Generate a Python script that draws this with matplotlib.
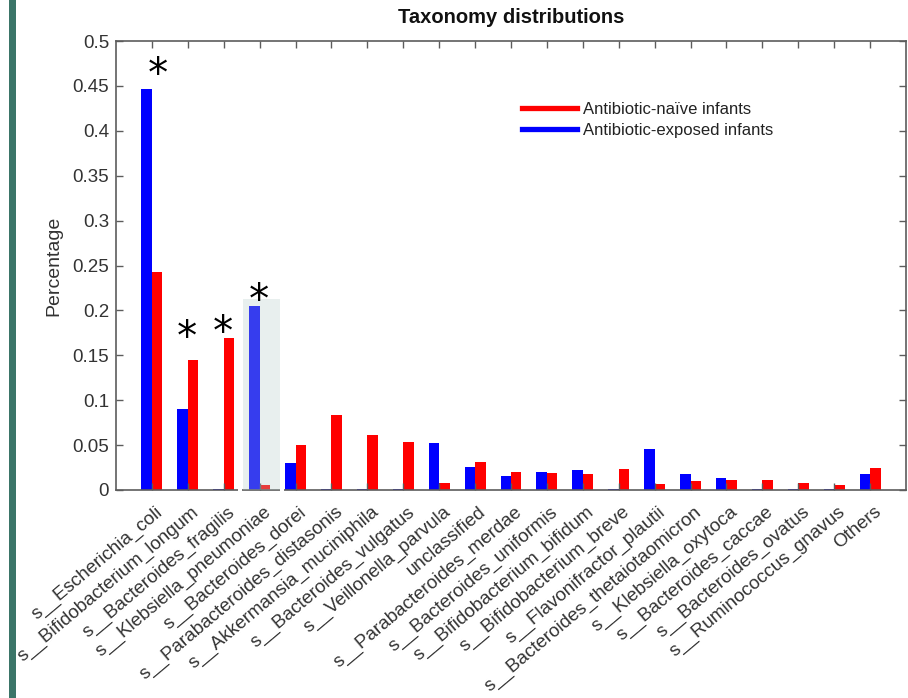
import matplotlib
matplotlib.use("Agg")
import matplotlib.pyplot as plt
import numpy as np
from matplotlib.patches import Rectangle
from matplotlib.lines import Line2D
from matplotlib.transforms import ScaledTranslation, blended_transform_factory

# ---- data -------------------------------------------------------------
taxa = [
    "s__Escherichia_coli", "s__Bifidobacterium_longum", "s__Bacteroides_fragilis",
    "s__Klebsiella_pneumoniae", "s__Bacteroides_dorei", "s__Parabacteroides_distasonis",
    "s__Akkermansia_muciniphila", "s__Bacteroides_vulgatus", "s__Veillonella_parvula",
    "unclassified", "s__Parabacteroides_merdae", "s__Bacteroides_uniformis",
    "s__Bifidobacterium_bifidum", "s__Bifidobacterium_breve", "s__Flavonifractor_plautii",
    "s__Bacteroides_thetaiotaomicron", "s__Klebsiella_oxytoca", "s__Bacteroides_caccae",
    "s__Bacteroides_ovatus", "s__Ruminococcus_gnavus", "Others",
]
exposed = [0.447, 0.090, 0.001, 0.205, 0.030, 0.001, 0.001, 0.001, 0.052, 0.026,
           0.016, 0.020, 0.022, 0.001, 0.046, 0.0175, 0.0134, 0.001, 0.001, 0.001, 0.018]
naive = [0.243, 0.145, 0.169, 0.006, 0.050, 0.083, 0.061, 0.053, 0.008, 0.031,
         0.020, 0.019, 0.018, 0.023, 0.007, 0.0105, 0.011, 0.011, 0.008, 0.0056, 0.024]
significant = [0, 1, 2, 3]
highlighted = 3

yticks = [0, 0.05, 0.1, 0.15, 0.2, 0.25, 0.3, 0.35, 0.4, 0.45, 0.5]
ytick_labels = ["0", "0.05", "0.1", "0.15", "0.2", "0.25", "0.3", "0.35", "0.4", "0.45", "0.5"]

# ---- styling ----------------------------------------------------------
plt.rcParams["font.family"] = ["Liberation Sans", "DejaVu Sans"]
axis_grey = "#5c5c5c"
text_grey = "#333333"
BLUE = "#0000ff"
RED = "#ff0000"

fig = plt.figure(figsize=(9.08, 6.98), dpi=100)
ax = fig.add_axes([116 / 908, 1 - 490 / 698, 790 / 908, 449 / 698])

x = np.arange(1, len(taxa) + 1)
w = 0.29
ax.bar(x - w, exposed, width=w, align="edge", color=BLUE, zorder=1)
ax.bar(x, naive, width=w, align="edge", color=RED, zorder=1)

ax.set_xlim(0, 22)
ax.set_ylim(0, 0.5)
ax.set_yticks(yticks)
ax.set_yticklabels(ytick_labels)
ax.set_xticks(x)
ax.set_xticklabels([])

# slanted category names, anchored just below each tick
label_tf = blended_transform_factory(ax.transData, ax.transAxes) + \
    ScaledTranslation(0.09, -0.20, fig.dpi_scale_trans)
for xi, name in zip(x, taxa):
    ax.text(xi, 0, name, transform=label_tf, rotation=40, ha="right", va="center",
            rotation_mode="anchor", fontsize=13.5, color=text_grey, clip_on=False)

ax.tick_params(axis="both", direction="in", length=5, width=1.0, color=axis_grey,
               top=True, right=True)
ax.tick_params(axis="y", labelsize=13.5, labelcolor=text_grey, pad=5)
for s in ax.spines.values():
    s.set_color(axis_grey)
    s.set_linewidth(1.2)
ax.set_axisbelow(False)

ax.set_ylabel("Percentage", fontsize=14, color=text_grey, labelpad=7)
ax.set_title("Taxonomy distributions", fontsize=14.5, fontweight="bold",
             color="#111111", pad=13)

# highlight box around Klebsiella pneumoniae
hx = x[highlighted]
ax.add_patch(Rectangle((hx - 0.47, 0), 1.03, 0.2127, facecolor=(0.71, 0.80, 0.78),
                       alpha=0.3, edgecolor="none", zorder=3))
for gx in (hx - 0.60, hx + 0.56):
    ax.add_patch(Rectangle((gx, -0.004), 0.12, 0.008, facecolor="white",
                           edgecolor="none", zorder=4, clip_on=False))

# significance markers
star_dx = [0.17, -0.02, -0.02, -0.02]
star_dy = [0.014, 0.023, 0.005, 0.004]
for i, dx, dy in zip(significant, star_dx, star_dy):
    top = max(exposed[i], naive[i])
    ax.text(x[i] + dx, top + dy, "*", fontsize=29, ha="center", va="center",
            color="black", family="DejaVu Sans", zorder=5)

# legend
handles = [Line2D([], [], color=RED, lw=3.8), Line2D([], [], color=BLUE, lw=3.8)]
leg = fig.legend(handles, ["Antibiotic-naïve infants", "Antibiotic-exposed infants"],
                 loc="upper left", bbox_to_anchor=(522 / 908, 1 - 102 / 698),
                 frameon=False, fontsize=12, handlelength=3.3, handletextpad=0.36,
                 labelspacing=0.33, borderpad=0, borderaxespad=0)
for t in leg.get_texts():
    t.set_color("#222222")

# left side accent bar
fig.add_artist(Rectangle((9 / 908, 0), 7 / 908, 1, transform=fig.transFigure,
                         facecolor="#3b7568", edgecolor="none"))

fig.savefig("out.png", dpi=100)
